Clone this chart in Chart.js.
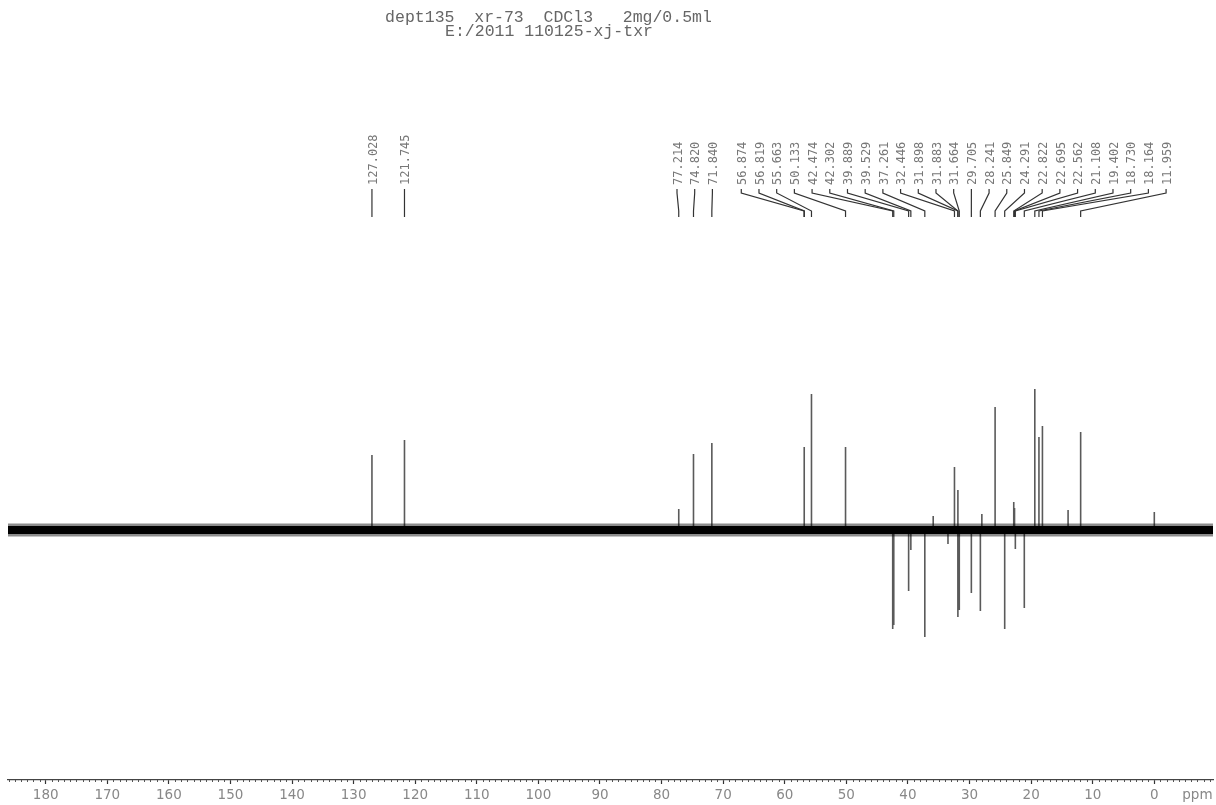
<!DOCTYPE html>
<html>
<head>
<meta charset="utf-8">
<script src="https://cdn.jsdelivr.net/npm/chart.js@4/dist/chart.umd.min.js"></script>
<style>
  html, body { margin: 0; padding: 0; background: #ffffff; }
  #wrap { width: 1216px; height: 805px; position: relative; }
</style>
</head>
<body>
<div id="wrap"><canvas id="c" width="1216" height="805"></canvas></div>
<script>
// ---- Data ----
const titleLines = ['dept135  xr-73  CDCl3   2mg/0.5ml', 'E:/2011 110125-xj-txr'];

// Labelled peaks (ppm) and their signed intensities (arbitrary units; CH2 negative)
const peakPpm = [127.028, 121.745, 77.214, 74.820, 71.840, 56.874, 56.819, 55.663, 50.133,
  42.474, 42.302, 39.889, 39.529, 37.261, 32.446, 31.898, 31.883, 31.664, 29.705, 28.241,
  25.849, 24.291, 22.822, 22.695, 22.562, 21.108, 19.402, 18.730, 18.164, 11.959];
const peakHeight = [75, 90, 21, 76, 87, 83, 58, 136, 83,
  -99, -95, -61, -20, -107, 63, 40, -87, -80, -63, -81,
  123, -99, 28, 22, -19, -78, 141, 93, 104, 98];

// Small unlabelled signals
const minorPpm = [35.9, 33.5, 28.0, 14.0, 0.0];
const minorHeight = [14, -14, 16, 20, 18];

// Baseline (noise band) extent
const baselinePpm = [186.12, -9.53];

// Axis
const xMin = -9.53;
const xMax = 186.12;
const tickValues = [180, 170, 160, 150, 140, 130, 120, 110, 100, 90, 80, 70, 60, 50, 40, 30, 20, 10, 0, -7];
const tickLabels = ['180', '170', '160', '150', '140', '130', '120', '110', '100', '90', '80', '70', '60', '50', '40', '30', '20', '10', '0', 'ppm'];

// ---- Build datasets from the arrays ----
const allPeaks = peakPpm.map((p, i) => ({ p, h: peakHeight[i] }))
  .concat(minorPpm.map((p, i) => ({ p, h: minorHeight[i] })))
  .sort((a, b) => b.p - a.p);
const spikePoints = [];
allPeaks.forEach(pk => {
  spikePoints.push({ x: pk.p, y: 0 }, { x: pk.p, y: pk.h }, { x: pk.p, y: 0 });
});
const baselinePoints = baselinePpm.map(p => ({ x: p, y: 0 }));

// ---- Plugins ----
const titlePlugin = {
  id: 'nmrTitle',
  afterDraw(chart) {
    const ctx = chart.ctx;
    ctx.save();
    ctx.fillStyle = '#666';
    ctx.font = '16.5px "Liberation Mono", "DejaVu Sans Mono", monospace';
    ctx.textAlign = 'center';
    ctx.textBaseline = 'middle';
    ctx.fillText(titleLines[0], 548.5, 18);
    ctx.fillText(titleLines[1], 549, 32);
    ctx.restore();
  }
};

const minorTickPlugin = {
  id: 'minorTicks',
  afterDraw(chart) {
    const xs = chart.scales.x;
    const ctx = chart.ctx;
    const y0 = chart.chartArea.bottom;
    ctx.save();
    ctx.strokeStyle = '#555';
    ctx.lineWidth = 1;
    for (let v = Math.ceil(xMin); v <= Math.floor(xMax); v++) {
      if (v % 10 === 0) continue;
      const x = Math.round(xs.getPixelForValue(v)) + 0.5;
      ctx.beginPath();
      ctx.moveTo(x, y0);
      ctx.lineTo(x, y0 + 2);
      ctx.stroke();
    }
    ctx.restore();
  }
};

const peakLabelPlugin = {
  id: 'peakLabels',
  afterDatasetsDraw(chart) {
    const xs = chart.scales.x;
    const ctx = chart.ctx;
    const S = 17.7;
    const items = peakPpm.map(p => ({ p, x: xs.getPixelForValue(p), label: p.toFixed(3) }))
      .sort((a, b) => a.x - b.x);
    let clusters = items.map(it => ({ members: [it], center: it.x }));
    let merged = true;
    while (merged) {
      merged = false;
      for (let i = 0; i < clusters.length - 1; i++) {
        const a = clusters[i], b = clusters[i + 1];
        const aRight = a.center + (a.members.length - 1) / 2 * S;
        const bLeft = b.center - (b.members.length - 1) / 2 * S;
        if (bLeft - aRight < S) {
          const m = a.members.concat(b.members);
          const c = m.reduce((s, it) => s + it.x, 0) / m.length;
          clusters.splice(i, 2, { members: m, center: c });
          merged = true;
          break;
        }
      }
    }
    ctx.save();
    ctx.strokeStyle = '#333';
    ctx.lineWidth = 1.2;
    ctx.fillStyle = '#777';
    ctx.font = '12px "DejaVu Sans Mono", monospace';
    clusters.forEach(cl => {
      const n = cl.members.length;
      cl.members.forEach((it, k) => {
        const pos = cl.center + (k - (n - 1) / 2) * S;
        ctx.beginPath();
        ctx.moveTo(pos, 189);
        ctx.lineTo(pos, 193);
        ctx.lineTo(it.x, 211);
        ctx.lineTo(it.x, 217);
        ctx.stroke();
        ctx.save();
        ctx.translate(pos + 1.5, 185);
        ctx.rotate(-Math.PI / 2);
        ctx.textAlign = 'left';
        ctx.textBaseline = 'middle';
        ctx.fillText(it.label, 0, 0);
        ctx.restore();
      });
    });
    ctx.restore();
  }
};

// ---- Chart ----
new Chart(document.getElementById('c'), {
  type: 'scatter',
  data: {
    datasets: [
      { // noise band core
        data: baselinePoints, showLine: true, borderColor: '#000', borderWidth: 8,
        pointRadius: 0, borderCapStyle: 'butt'
      },
      { // noise band fringe
        data: baselinePoints, showLine: true, borderColor: 'rgba(0,0,0,0.45)', borderWidth: 13,
        pointRadius: 0, borderCapStyle: 'butt'
      },
      { // peaks
        data: spikePoints, showLine: true, borderColor: '#5a5a5a', borderWidth: 1.6,
        pointRadius: 0, tension: 0
      }
    ]
  },
  options: {
    responsive: false,
    animation: false,
    events: [],
    layout: { padding: { left: 8, right: 3, top: 225, bottom: 0 } },
    plugins: { legend: { display: false }, tooltip: { enabled: false }, title: { display: false } },
    scales: {
      x: {
        type: 'linear',
        reverse: true,
        min: xMin,
        max: xMax,
        afterBuildTicks: (scale) => { scale.ticks = tickValues.map(v => ({ value: v })); },
        afterFit: (scale) => { scale.height = 25; },
        border: { display: true, color: '#444', width: 1.2 },
        grid: {
          display: true,
          drawOnChartArea: false,
          drawTicks: true,
          tickLength: 4,
          tickColor: (ctx) => (ctx.tick && ctx.tick.value === -7) ? 'rgba(0,0,0,0)' : '#333',
          tickWidth: 1.2
        },
        ticks: {
          autoSkip: false,
          maxRotation: 0,
          padding: 3,
          color: '#888',
          font: { family: 'DejaVu Sans', size: 13.5 },
          callback: (value) => tickLabels[tickValues.indexOf(value)]
        }
      },
      y: {
        display: false,
        min: -250,
        max: 305
      }
    }
  },
  plugins: [titlePlugin, minorTickPlugin, peakLabelPlugin]
});
</script>
</body>
</html>
